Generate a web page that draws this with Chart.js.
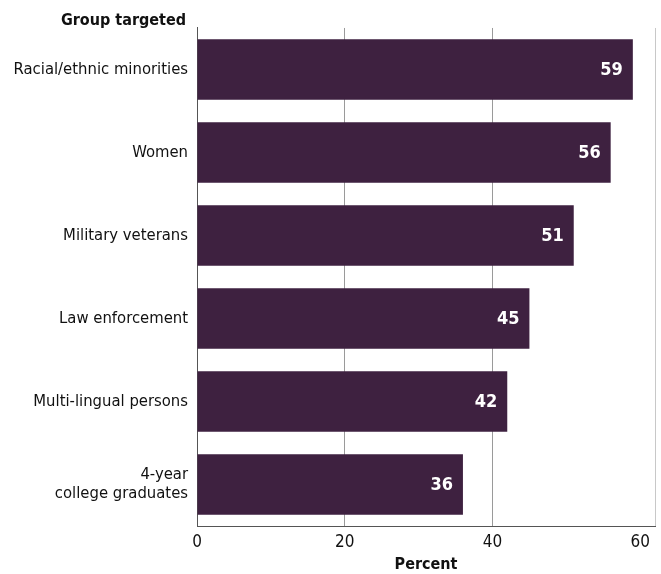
<!DOCTYPE html>
<html>
<head>
<meta charset="utf-8">
<script src="https://cdn.jsdelivr.net/npm/chart.js@4"></script>
<style>
  body { margin: 0; background: #fff; }
</style>
</head>
<body>
<canvas id="groupChart" width="661" height="574"></canvas>
<script>
var categories = ["Racial/ethnic minorities", "Women", "Military veterans", "Law enforcement", "Multi-lingual persons", ["4-year", "college graduates"]];
var percents = [59, 56, 51, 45, 42, 36];
var xTicks = [0, 20, 40, 60];

var fontFamily = "'Liberation Sans Narrow', 'DejaVu Sans Condensed', sans-serif";
var barColor = "#3e2140";

// white value labels inside the end of each bar, plus header text and right border
var extras = {
  id: "extras",
  afterDatasetsDraw: function (chart) {
    var c = chart.ctx;
    var meta = chart.getDatasetMeta(0);
    c.save();
    c.fillStyle = "#fff";
    c.font = "bold 18px " + fontFamily;
    c.textAlign = "right";
    c.textBaseline = "middle";
    meta.data.forEach(function (bar, i) {
      c.fillText(percents[i], bar.x - 10, bar.y + 1);
    });
    c.restore();
  },
  afterDraw: function (chart) {
    var c = chart.ctx;
    var area = chart.chartArea;
    c.save();
    c.strokeStyle = "#c8c8c8";
    c.lineWidth = 1;
    c.beginPath();
    c.moveTo(area.right + 0.5, area.top);
    c.lineTo(area.right + 0.5, area.bottom);
    c.stroke();
    c.fillStyle = "#111";
    c.font = "bold 16px " + fontFamily;
    c.textAlign = "right";
    c.textBaseline = "middle";
    c.fillText("Group targeted", 186, 21);
    c.restore();
  }
};

var ctx = document.getElementById("groupChart");
var groupChart = new Chart(ctx, {
  type: "bar",
  data: {
    labels: categories,
    datasets: [
      {
        label: "Percent",
        data: percents,
        backgroundColor: barColor,
        borderWidth: 0,
        categoryPercentage: 1,
        barPercentage: 0.73,
      },
    ],
  },
  options: {
    indexAxis: "y",
    responsive: false,
    animation: false,
    layout: { padding: { top: 24, right: 6, left: 0, bottom: 0 } },
    plugins: {
      legend: { display: false },
      tooltip: { enabled: false },
    },
    scales: {
      x: {
        min: 0,
        max: 62,
        afterBuildTicks: function (scale) {
          scale.ticks = xTicks.map(function (v) { return { value: v }; });
        },
        afterFit: function (scale) { scale.height = 48; },
        grid: {
          color: function (c) { return c.tick && c.tick.value === 60 ? "rgba(0,0,0,0)" : "#9a9a9a"; },
          drawTicks: false,
        },
        border: { color: "#555", width: 1 },
        ticks: {
          color: "#111",
          padding: 6,
          font: { family: fontFamily, size: 17 },
        },
        title: {
          display: true,
          text: "Percent",
          color: "#111",
          padding: { top: 2, bottom: 0 },
          font: { family: fontFamily, size: 16, weight: "bold" },
        },
      },
      y: {
        afterFit: function (scale) { scale.width = 197; },
        grid: { display: false, drawTicks: false },
        border: { color: "#555", width: 1 },
        ticks: {
          color: "#111",
          padding: 9,
          font: { family: fontFamily, size: 16.5, lineHeight: 1.15 },
        },
      },
    },
  },
  plugins: [extras],
});
</script>
</body>
</html>
